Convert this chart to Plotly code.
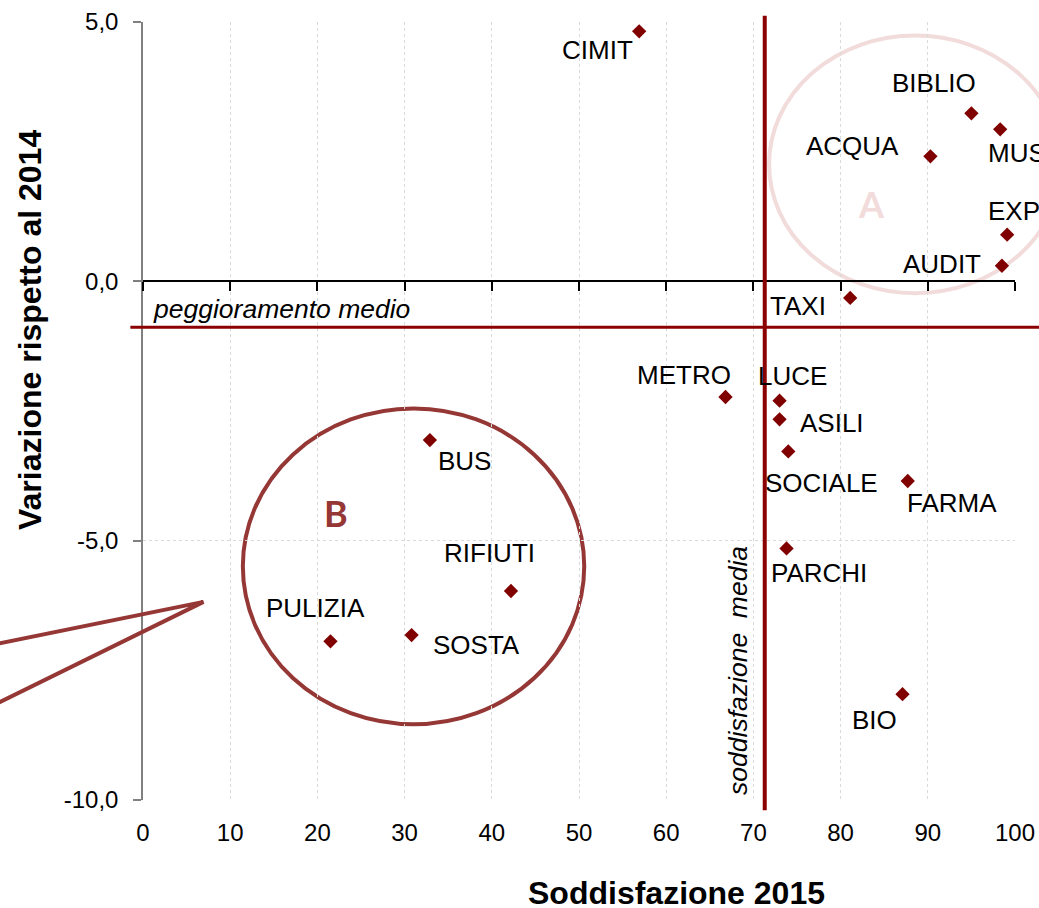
import plotly.graph_objects as go

# Servizi: soddisfazione 2015 e variazione rispetto al 2014
services = ["CIMIT", "BIBLIO", "MUSEI", "ACQUA", "EXPO", "AUDIT", "TAXI",
            "METRO", "LUCE", "ASILI", "SOCIALE", "FARMA", "PARCHI", "BIO",
            "BUS", "RIFIUTI", "SOSTA", "PULIZIA"]
satisfaction_2015 = [56.9, 95.0, 98.3, 90.3, 99.1, 98.5, 81.1,
                     66.8, 73.0, 73.0, 74.0, 87.7, 73.8, 87.1,
                     32.9, 42.2, 30.8, 21.5]
change_vs_2014 = [4.82, 3.24, 2.93, 2.41, 0.90, 0.30, -0.32,
                  -2.23, -2.30, -2.66, -3.28, -3.85, -5.15, -7.96,
                  -3.06, -5.97, -6.82, -6.94]

# Valori medi (linee di riferimento)
mean_satisfaction = 71.3
mean_change = -0.886

x_ticks = [0, 10, 20, 30, 40, 50, 60, 70, 80, 90, 100]
y_ticks = [5, 0, -5, -10]
y_tick_labels = ["5,0", "0,0", "-5,0", "-10,0"]

X_RANGE = (0, 100)
Y_RANGE = (-10, 5)

# Label placement: (xanchor, xshift px, yshift px)
label_pos = {
    "CIMIT": ("center", -42, -19),
    "BIBLIO": ("center", -37, 30),
    "MUSEI": ("left", -14, -24),
    "ACQUA": ("right", -29, 10),
    "EXPO": ("left", -21, 24),
    "AUDIT": ("right", -19, 2),
    "TAXI": ("right", -22, -8),
    "METRO": ("center", -42, 22),
    "LUCE": ("center", 13, 25),
    "ASILI": ("left", 18, -4),
    "SOCIALE": ("center", 33, -32),
    "FARMA": ("left", -3, -22),
    "PARCHI": ("center", 32, -25),
    "BIO": ("right", -4, -26),
    "BUS": ("left", 6, -21),
    "RIFIUTI": ("center", -21, 38),
    "SOSTA": ("left", 19, -10),
    "PULIZIA": ("center", -15, 33),
}

DARK_RED = "#800000"
LINE_RED = "#8B0000"
BROWN_RED = "#953735"
PINK = "#F2DCDB"
TEXT_FONT = "Arial, Liberation Sans, sans-serif"

# Plot area in pixels (figure 1039 x 908)
M_L, M_R, M_T, M_B = 143, 24, 22, 108
PW = 1039 - M_L - M_R
PH = 908 - M_T - M_B


def fx(v):
    return (v - X_RANGE[0]) / (X_RANGE[1] - X_RANGE[0])


def fy(v):
    return (v - Y_RANGE[0]) / (Y_RANGE[1] - Y_RANGE[0])


fig = go.Figure()

fig.add_trace(go.Scatter(
    x=satisfaction_2015, y=change_vs_2014, mode="markers",
    marker=dict(symbol="diamond", size=11, color=DARK_RED),
    hovertext=services, hoverinfo="text+x+y", showlegend=False,
))

# Carrier trace for the axis line drawn through y = 0
fig.add_trace(go.Scatter(
    x=satisfaction_2015, y=change_vs_2014, xaxis="x2", mode="markers",
    marker=dict(opacity=0), hoverinfo="skip", showlegend=False,
))

shapes = []
# Ellipse A (servizi migliori)
shapes.append(dict(type="circle", xref="x domain", yref="y domain",
                   x0=fx(71.8), x1=fx(105.3), y0=fy(-0.23), y1=fy(4.74),
                   line=dict(color=PINK, width=4), layer="below"))
# Ellipse B (servizi critici) with callout tail
shapes.append(dict(type="circle", xref="x domain", yref="y domain",
                   x0=fx(11.45), x1=fx(50.6), y0=fy(-8.54), y1=fy(-2.45),
                   line=dict(color=BROWN_RED, width=4), layer="below"))
shapes.append(dict(type="path", xref="x domain", yref="y domain",
                   path=(f"M {fx(-25):.4f} {fy(-7.27):.4f} "
                         f"L {fx(6.94):.4f} {fy(-6.18):.4f} "
                         f"L {fx(-25):.4f} {fy(-8.82):.4f}"),
                   line=dict(color=BROWN_RED, width=4)))
# Mean reference lines
shapes.append(dict(type="line", xref="x domain", yref="y domain",
                   x0=fx(mean_satisfaction), x1=fx(mean_satisfaction),
                   y0=fy(5.12), y1=fy(-10.2),
                   line=dict(color=LINE_RED, width=4)))
shapes.append(dict(type="line", xref="x domain", yref="y domain",
                   x0=fx(-1.45), x1=fx(106), y0=fy(mean_change), y1=fy(mean_change),
                   line=dict(color=LINE_RED, width=3)))

annotations = []
for name, xv, yv in zip(services, satisfaction_2015, change_vs_2014):
    anchor, dx, dy = label_pos[name]
    annotations.append(dict(x=xv, y=yv, text=name, showarrow=False,
                            xanchor=anchor, yanchor="middle", xshift=dx, yshift=dy,
                            font=dict(family=TEXT_FONT, size=26, color="black")))

annotations += [
    dict(x=83.5, y=1.5, text="<b>A</b>", showarrow=False,
         font=dict(family="Lato, sans-serif", size=36, color=PINK)),
    dict(x=22.1, y=-4.47, text="<b>B</b>", showarrow=False,
         font=dict(family="Lato, sans-serif", size=36, color=BROWN_RED)),
    dict(x=0.86, y=-0.54, text="<i>peggioramento medio</i>", showarrow=False,
         xanchor="left", yanchor="middle",
         font=dict(family=TEXT_FONT, size=26.5, color="black")),
    dict(x=68.3, y=-7.5, text="<i>soddisfazione  media</i>", showarrow=False,
         textangle=-90, xanchor="center", yanchor="middle",
         font=dict(family=TEXT_FONT, size=26.5, color="black")),
    dict(xref="paper", yref="paper", x=(676 - M_L) / PW, y=(M_T + PH - 893) / PH,
         text="<b>Soddisfazione 2015</b>", showarrow=False,
         xanchor="center", yanchor="middle",
         font=dict(family=TEXT_FONT, size=32, color="black")),
    dict(xref="paper", yref="paper", x=(30 - M_L) / PW, y=(M_T + PH - 330) / PH,
         text="<b>Variazione rispetto al 2014</b>", showarrow=False, textangle=-90,
         xanchor="center", yanchor="middle",
         font=dict(family=TEXT_FONT, size=32, color="black")),
]

grid = dict(showgrid=True, gridcolor="#D9D9D9", griddash="dot", gridwidth=1)

fig.update_layout(
    width=1039, height=908,
    margin=dict(l=M_L, r=M_R, t=M_T, b=M_B, autoexpand=False),
    plot_bgcolor="white", paper_bgcolor="white",
    showlegend=False,
    shapes=shapes,
    annotations=annotations,
    xaxis=dict(range=list(X_RANGE), tickvals=x_ticks, ticks="",
               showline=False, zeroline=False, ticklabelstandoff=16,
               automargin=False,
               tickfont=dict(family=TEXT_FONT, size=24, color="black"),
               **grid),
    xaxis2=dict(range=list(X_RANGE), overlaying="x", anchor="free",
                position=fy(0), tickvals=x_ticks, ticks="outside",
                ticklen=9, tickwidth=1.5, tickcolor="black",
                showline=True, linecolor="black", linewidth=1.5,
                showticklabels=False, showgrid=False, zeroline=False,
                automargin=False),
    yaxis=dict(range=list(Y_RANGE), tickvals=y_ticks, ticktext=y_tick_labels,
               ticks="outside", ticklen=8, tickcolor="#808080", tickwidth=1.5,
               showline=True, linecolor="#808080", linewidth=1.5,
               zeroline=False, ticklabelstandoff=10, automargin=False,
               tickfont=dict(family=TEXT_FONT, size=24, color="black"),
               **grid),
)

fig.write_html("out.html")
